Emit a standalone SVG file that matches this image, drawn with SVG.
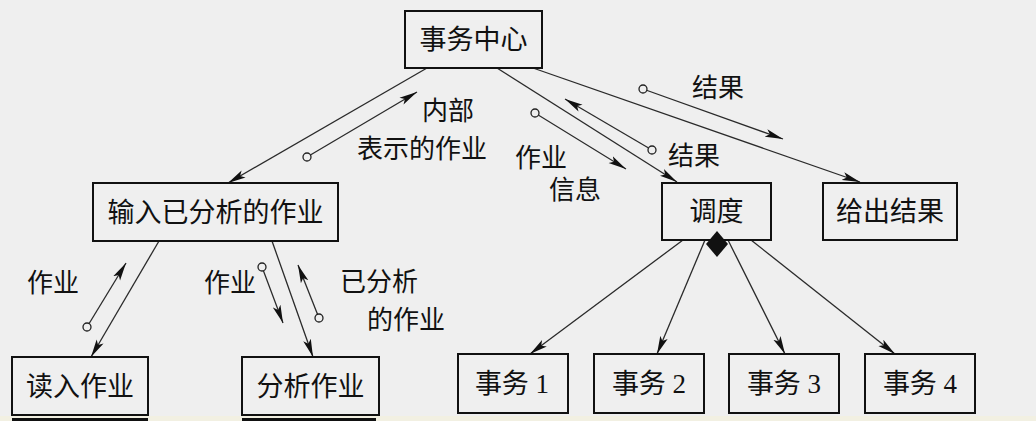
<svg xmlns="http://www.w3.org/2000/svg" width="1036" height="421" viewBox="0 0 1036 421">
<defs>
<style>
.box{fill:none;stroke:#111;stroke-width:2}
.nt{font-family:"Liberation Serif","Noto Sans CJK SC",serif;font-size:27px;fill:#111;text-anchor:middle}
.lb{font-family:"Noto Sans CJK SC",sans-serif;font-size:26px;fill:#111}
.ln{stroke:#2a2a2a;stroke-width:1.3;fill:none}
.cr{fill:#efefef;stroke:#222;stroke-width:1.3}
</style>
<marker id="ah" viewBox="0 0 18 9" refX="18" refY="4.5" markerWidth="18" markerHeight="9" markerUnits="userSpaceOnUse" orient="auto">
<path d="M0,0.5 L18,4.5 L0,8.5 L4,4.5 z" fill="#111"/>
</marker>
</defs>
<rect x="0" y="0" width="1036" height="421" fill="#efefef"/>
<rect x="0" y="416" width="1036" height="5" fill="#f2f0e2"/>
<rect x="12" y="418" width="136" height="3" fill="#111"/>
<rect x="242" y="418" width="134" height="3" fill="#111"/>

<g id="connectors">
<line class="ln" x1="427" y1="68" x2="228" y2="183" marker-end="url(#ah)"/>
<line class="ln" x1="307" y1="157" x2="417" y2="92" marker-end="url(#ah)"/>
<line class="ln" x1="497" y1="68" x2="677" y2="182" marker-end="url(#ah)"/>
<line class="ln" x1="652" y1="150" x2="565" y2="99" marker-end="url(#ah)"/>
<line class="ln" x1="535" y1="113" x2="626" y2="169" marker-end="url(#ah)"/>
<line class="ln" x1="533" y1="68" x2="860" y2="182" marker-end="url(#ah)"/>
<line class="ln" x1="643" y1="89" x2="783" y2="139" marker-end="url(#ah)"/>
<line class="ln" x1="159" y1="241" x2="91" y2="357" marker-end="url(#ah)"/>
<line class="ln" x1="87" y1="327" x2="126" y2="263" marker-end="url(#ah)"/>
<line class="ln" x1="272" y1="241" x2="313" y2="357" marker-end="url(#ah)"/>
<line class="ln" x1="262" y1="267" x2="283" y2="323" marker-end="url(#ah)"/>
<line class="ln" x1="319" y1="318" x2="298" y2="265" marker-end="url(#ah)"/>
<line class="ln" x1="683" y1="240" x2="530" y2="354" marker-end="url(#ah)"/>
<line class="ln" x1="705" y1="240" x2="657" y2="354" marker-end="url(#ah)"/>
<line class="ln" x1="728" y1="240" x2="785" y2="354" marker-end="url(#ah)"/>
<line class="ln" x1="751" y1="240" x2="895" y2="354" marker-end="url(#ah)"/>
<circle class="cr" cx="307" cy="157" r="4"/>
<circle class="cr" cx="652" cy="150" r="4"/>
<circle class="cr" cx="535" cy="113" r="4"/>
<circle class="cr" cx="643" cy="89" r="4"/>
<circle class="cr" cx="87" cy="327" r="4"/>
<circle class="cr" cx="262" cy="267" r="4"/>
<circle class="cr" cx="319" cy="318" r="4"/>
<text class="lb" x="422" y="120">内部</text>
<text class="lb" x="357" y="158">表示的作业</text>
<text class="lb" x="692" y="97">结果</text>
<text class="lb" x="668" y="165">结果</text>
<text class="lb" x="515" y="167">作业</text>
<text class="lb" x="549" y="199">信息</text>
<text class="lb" x="27" y="292">作业</text>
<text class="lb" x="204" y="292">作业</text>
<text class="lb" x="340" y="291">已分析</text>
<text class="lb" x="367" y="329">的作业</text>
</g>

<g id="n-center"><rect class="box" x="405" y="11" width="137" height="57"/><text class="nt" x="473.5" y="49">事务中心</text></g>
<g id="n-input"><rect class="box" x="93" y="183" width="245" height="58"/><text class="nt" x="215.5" y="221.5">输入已分析的作业</text></g>
<g id="n-read"><rect class="box" x="12" y="357" width="136" height="58"/><text class="nt" x="80" y="395.5">读入作业</text></g>
<g id="n-analyze"><rect class="box" x="242" y="357" width="137" height="58"/><text class="nt" x="310.5" y="395.5">分析作业</text></g>
<g id="n-dispatch"><rect class="box" x="662" y="183" width="109" height="57"/><text class="nt" x="716.5" y="221">调度</text>
<polygon points="717,231 728,244 717,257 706,244" fill="#111"/></g>
<g id="n-output"><rect class="box" x="823" y="183" width="134" height="57"/><text class="nt" x="890" y="221">给出结果</text></g>
<g id="n-t1"><rect class="box" x="458" y="354" width="110" height="59"/><text class="nt" x="512" y="393">事务 1</text></g>
<g id="n-t2"><rect class="box" x="594" y="354" width="110" height="59"/><text class="nt" x="649" y="393">事务 2</text></g>
<g id="n-t3"><rect class="box" x="729" y="354" width="110" height="59"/><text class="nt" x="784" y="393">事务 3</text></g>
<g id="n-t4"><rect class="box" x="865" y="354" width="110" height="59"/><text class="nt" x="920" y="393">事务 4</text></g>
</svg>
